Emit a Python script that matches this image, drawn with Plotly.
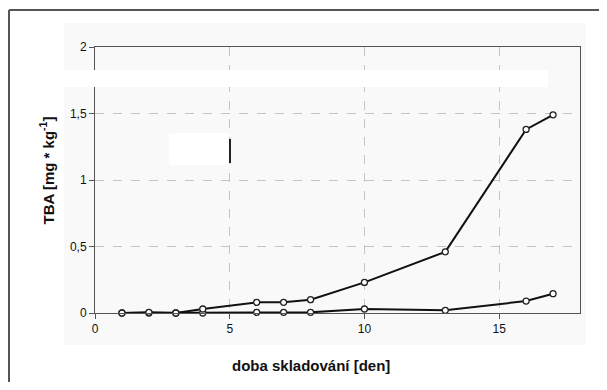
import plotly.graph_objects as go

days = [1, 2, 3, 4, 6, 7, 8, 10, 13, 16, 17]
tba_upper = [0, 0.005, 0, 0.03, 0.08, 0.08, 0.10, 0.23, 0.46, 1.38, 1.49]
tba_lower = [0, 0, 0, 0, 0.005, 0.005, 0.005, 0.03, 0.02, 0.09, 0.145]
x_ticks = [0, 5, 10, 15]
y_ticks = [0, 0.5, 1, 1.5, 2]

OFF = 8  # page body margin
W, H = 607 - 2 * OFF, 390 - 2 * OFF
# plot area in window pixels: x 95..580, y 47..313
L, R, T, B = 95 - OFF, (W + OFF) - 580, 47 - OFF, (H + OFF) - 313
pw, ph = W - L - R, H - T - B

def px(x):
    return (x - OFF - L) / pw

def py(y):
    return (H - B - (y - OFF)) / ph

fig = go.Figure()
for vals in (tba_lower, tba_upper):
    fig.add_trace(go.Scatter(
        x=days, y=vals, mode="lines+markers",
        line=dict(color="#111111", width=2),
        marker=dict(symbol="circle", size=6, color="white",
                    line=dict(color="#222222", width=1.3)),
        cliponaxis=False, showlegend=False,
    ))

shapes = [
    dict(type="rect", xref="paper", yref="paper", layer="below",
         x0=px(64), x1=px(586), y0=py(345), y1=py(23),
         fillcolor="#f9f9f9", line=dict(width=0)),
    dict(type="rect", xref="paper", yref="paper", layer="above",
         x0=px(62), x1=px(548), y0=py(87), y1=py(70),
         fillcolor="white", line=dict(width=0)),
    dict(type="rect", xref="paper", yref="paper", layer="above",
         x0=px(169), x1=px(229), y0=py(165), y1=py(133),
         fillcolor="white", line=dict(width=0)),
    dict(type="line", xref="paper", yref="paper", layer="above",
         x0=px(230), x1=px(230), y0=py(163), y1=py(139),
         line=dict(color="#222222", width=2)),
    # outer frame: only left and top edges are visible in the crop
    dict(type="line", xref="paper", yref="paper", layer="below",
         x0=px(9), x1=px(9), y0=py(10), y1=py(395),
         line=dict(color="#555555", width=2)),
    dict(type="line", xref="paper", yref="paper", layer="below",
         x0=px(9), x1=px(610), y0=py(10), y1=py(10),
         line=dict(color="#555555", width=2)),
]

fig.update_layout(
    width=W, height=H,
    margin=dict(l=L, r=R, t=T, b=B),
    paper_bgcolor="white", plot_bgcolor="rgba(0,0,0,0)",
    separators=",.",
    font=dict(family="Liberation Sans, Arial, sans-serif", size=12, color="#111111"),
    shapes=shapes,
    xaxis=dict(range=[0, 18], tickvals=x_ticks, showgrid=True,
               gridcolor="#c4c4c4", griddash="dash", gridwidth=1,
               showline=True, linecolor="#555555", linewidth=1, mirror=True,
               ticks="outside", ticklen=5, tickcolor="#555555",
               zeroline=False, tickfont=dict(size=12)),
    yaxis=dict(range=[0, 2], tickvals=y_ticks, showgrid=True,
               gridcolor="#c4c4c4", griddash="dash", gridwidth=1,
               showline=True, linecolor="#555555", linewidth=1, mirror=True,
               ticks="outside", ticklen=5, tickcolor="#555555",
               zeroline=False, tickfont=dict(size=12)),
    annotations=[
        dict(text="<b>doba skladování [den]</b>", xref="paper", yref="paper",
             x=px(311), y=py(376), showarrow=False,
             font=dict(size=15, color="#111111")),
        dict(text="<b>TBA [mg * kg<sup>-1</sup>]</b>", xref="paper", yref="paper",
             x=px(35), y=py(171), showarrow=False, textangle=-90,
             font=dict(size=15, color="#111111")),
    ],
)

fig.write_html("out.html")
